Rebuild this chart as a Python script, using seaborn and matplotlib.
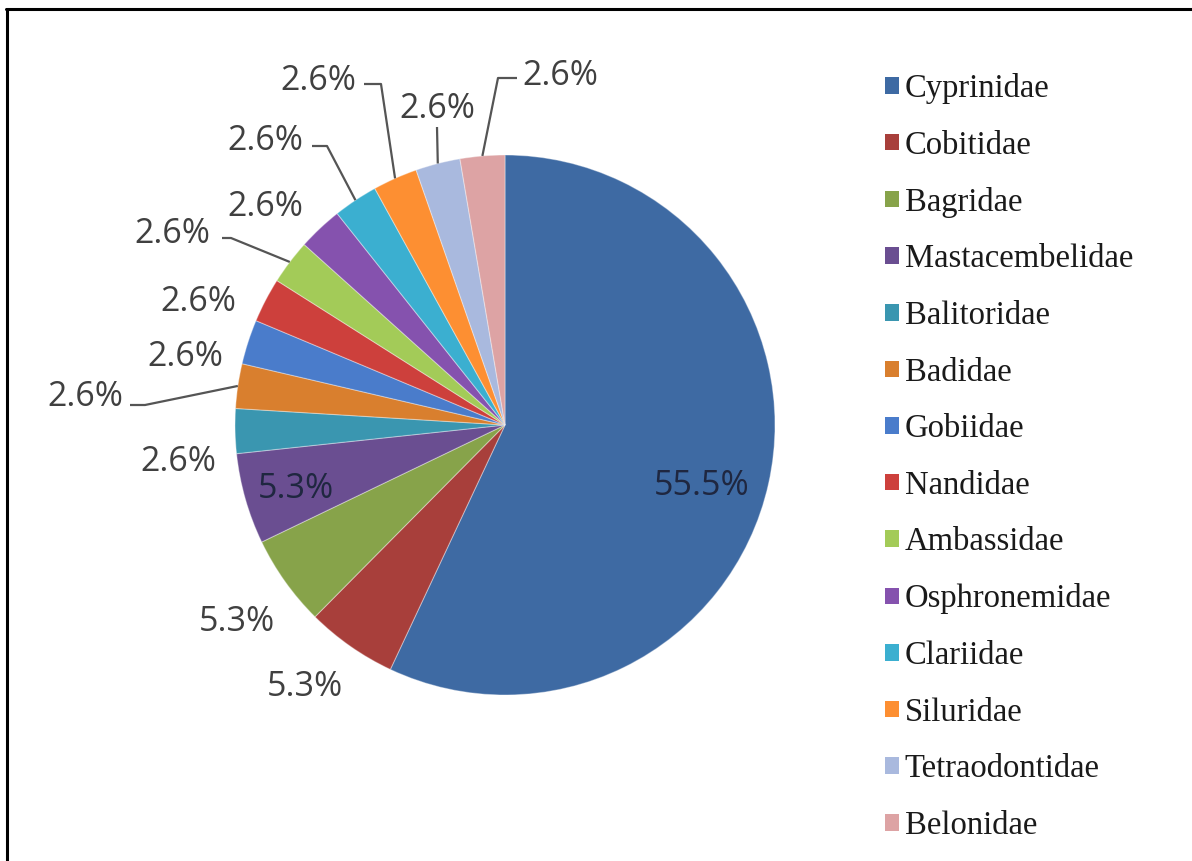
import matplotlib
matplotlib.use("Agg")
import matplotlib.pyplot as plt
from matplotlib.patches import Patch
from matplotlib.lines import Line2D
import numpy as np
import seaborn as sns

# Fish families and their share of recorded species (%)
families = ["Cyprinidae", "Cobitidae", "Bagridae", "Mastacembelidae", "Balitoridae",
            "Badidae", "Gobiidae", "Nandidae", "Ambassidae", "Osphronemidae",
            "Clariidae", "Siluridae", "Tetraodontidae", "Belonidae"]
shares = [55.5, 5.3, 5.3, 5.3, 2.6, 2.6, 2.6, 2.6, 2.6, 2.6, 2.6, 2.6, 2.6, 2.6]
colors = ["#3E6AA3", "#A83F3B", "#87A34A", "#6A4E91", "#3A96B0", "#D97F2E", "#4A7CCB",
          "#CD403C", "#A3CB58", "#8552AE", "#3BAFD0", "#FD8F32", "#A9B9DE", "#DDA3A4"]

W, H = 1192, 861
CENTER = (505, 425)      # pie centre, pixels from top-left
RADIUS = 270

# label centres (pixels from top-left)
label_pos = [(702, 482), (305, 683), (237, 618), (296, 485), (178, 458),
             (85, 393), (185, 353), (198, 298), (172, 230), (265, 203),
             (265, 137), (318, 77), (437, 105), (560, 72)]
inside = {0, 3}
# leader lines: start point and elbow; the line ends on the wedge rim
leaders = {5: [(130, 405), (145, 405)],
           8: [(222, 238), (231, 238)],
           10: [(312, 146), (327, 146)],
           11: [(364, 84), (381, 84)],
           12: [(437, 127), (437, 127)],
           13: [(517, 78), (498, 78)]}


def fy(p):
    return (p[0], H - p[1])


sns.set_theme(style="white")
plt.rcParams["font.family"] = ["Open Sans", "DejaVu Sans"]

fig = plt.figure(figsize=(W / 100, H / 100), dpi=100)
fig.patch.set_facecolor("white")
ax = fig.add_axes([0, 0, 1, 1])

palette = sns.color_palette(colors)
wedges, _ = ax.pie(shares, colors=palette, startangle=90, counterclock=False,
                   center=fy(CENTER), radius=RADIUS,
                   wedgeprops=dict(edgecolor=(1, 1, 1, 0.35), linewidth=0.8))
ax.set_xlim(0, W)
ax.set_ylim(0, H)
ax.set_aspect("equal")
ax.axis("off")

for i, (w, v) in enumerate(zip(wedges, shares)):
    x, y = fy(label_pos[i])
    col = "#1F2740" if i in inside else "#404040"
    ax.text(x, y - 4, f"{v:.1f}%", ha="center", va="center", fontsize=24.5, color=col)
    if i in leaders:
        mid = np.deg2rad((w.theta1 + w.theta2) / 2)
        cx, cy = fy(CENTER)
        end = (cx + RADIUS * np.cos(mid), cy + RADIUS * np.sin(mid))
        p0, p1 = fy(leaders[i][0]), fy(leaders[i][1])
        ax.plot([p0[0], p1[0], end[0]], [p0[1], p1[1], end[1]],
                color="#555555", lw=1.6, solid_capstyle="butt")

handles = [Patch(facecolor=c, edgecolor="none") for c in palette]
fig.legend(handles, families, loc="upper left",
           bbox_to_anchor=(885 / W, 1 - 73 / H), frameon=False,
           prop=dict(family="Liberation Serif", size=23.5),
           labelcolor="#1a1a1a", handlelength=0.43, handleheight=0.4,
           handletextpad=0.18, labelspacing=0.80, borderpad=0, borderaxespad=0)

# frame lines along the top and left edges
fig.add_artist(Line2D([6 / W, 1], [1 - 9 / H, 1 - 9 / H], color="black", lw=2.2,
                      transform=fig.transFigure))
fig.add_artist(Line2D([7 / W, 7 / W], [0, 1 - 9 / H], color="black", lw=2.2,
                      transform=fig.transFigure))

fig.savefig("out.png", dpi=100, facecolor="white")
